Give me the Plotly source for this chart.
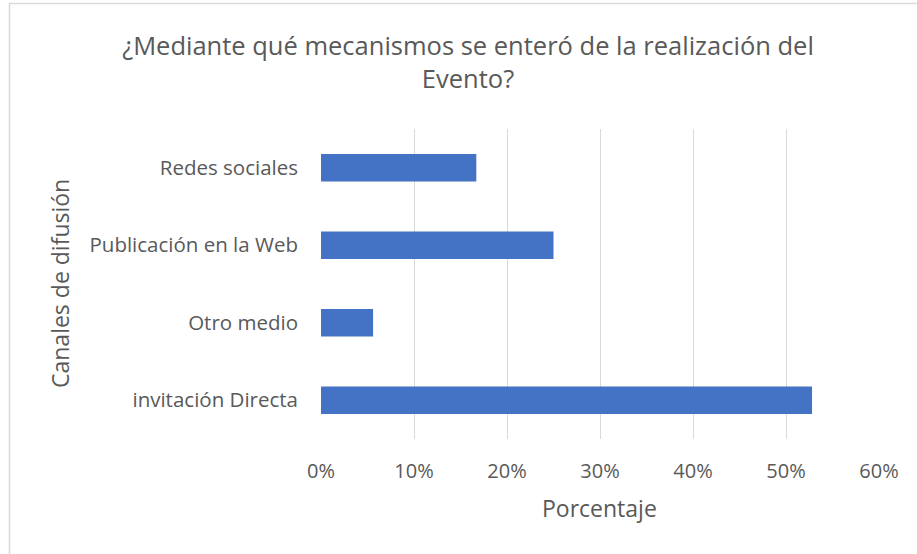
import plotly.graph_objects as go

# ------------------------------------------- Data -------------------------------------------

canales = ["Redes sociales", "Publicación en la Web", "Otro medio", "invitación Directa"]
porcentajes = [0.167, 0.25, 0.056, 0.528]
x_ticks = [0, 0.1, 0.2, 0.3, 0.4, 0.5, 0.6]

titulo = "¿Mediante qué mecanismos se enteró de la realización del<br>Evento?"
titulo_x = "Porcentaje"
titulo_y = "Canales de difusión"

# ------------------------------------------- Layout helpers -------------------------------------------

W, H = 917, 554
PLOT_L, PLOT_R, PLOT_T, PLOT_B = 321, 879, 129, 439
TEXT = "#595959"
FONT = "Open Sans"


def px_to_paper_x(px):
    """Pixel x of the page -> paper coordinate"""
    return (px - PLOT_L) / (PLOT_R - PLOT_L)


def px_to_paper_y(py):
    """Pixel y of the page -> paper coordinate"""
    return (PLOT_B - py) / (PLOT_B - PLOT_T)


# ------------------------------------------- Figure -------------------------------------------

fig = go.Figure()
fig.add_trace(go.Bar(
    y=canales,
    x=porcentajes,
    orientation="h",
    width=0.355,
    marker=dict(color="#4472C4", line=dict(width=0)),
    hovertemplate="%{y}: %{x:.1%}<extra></extra>",
))

fig.update_layout(
    width=W,
    height=H,
    margin=dict(l=PLOT_L, r=W - PLOT_R, t=PLOT_T, b=H - PLOT_B),
    paper_bgcolor="white",
    plot_bgcolor="white",
    showlegend=False,
    font=dict(family=FONT, color=TEXT, size=20),
    title=dict(
        text=titulo,
        x=468 / W,
        xanchor="center",
        y=1 - 55 / H,
        yanchor="middle",
        font=dict(size=25.5, color=TEXT, family=FONT),
    ),
    xaxis=dict(
        range=[0, 0.6],
        tickvals=x_ticks,
        tickformat=".0%",
        showgrid=True,
        gridcolor="#D9D9D9",
        gridwidth=1,
        zeroline=False,
        showline=False,
        ticks="",
        ticklabelstandoff=18,
        tickfont=dict(size=20, color=TEXT),
        fixedrange=True,
    ),
    yaxis=dict(
        categoryorder="array",
        categoryarray=canales[::-1],
        showgrid=False,
        zeroline=False,
        showline=False,
        ticks="",
        ticklabelstandoff=22,
        tickfont=dict(size=20.5, color=TEXT),
        fixedrange=True,
    ),
)

# Axis titles
fig.add_annotation(
    text=titulo_x, xref="paper", yref="paper",
    x=px_to_paper_x(599), y=px_to_paper_y(508),
    showarrow=False, font=dict(size=23, color=TEXT, family=FONT),
    xanchor="center", yanchor="middle",
)
fig.add_annotation(
    text=titulo_y, xref="paper", yref="paper",
    x=px_to_paper_x(60), y=px_to_paper_y(284),
    showarrow=False, textangle=-90, font=dict(size=23, color=TEXT, family=FONT),
    xanchor="center", yanchor="middle",
)

# Chart frame (only top and left edges are visible in the picture)
fig.add_shape(
    type="rect", xref="paper", yref="paper",
    x0=px_to_paper_x(9.5), x1=px_to_paper_x(W + 20),
    y0=px_to_paper_y(H + 20), y1=px_to_paper_y(3.5),
    line=dict(color="#D9D9D9", width=1.5), fillcolor="rgba(0,0,0,0)",
    layer="below",
)

# Page has a default 8px body margin; drop it so the figure sits at (0, 0)
fig.write_html(
    "out.html",
    config={"displayModeBar": False},
    post_script="document.body.style.margin='0';",
)
